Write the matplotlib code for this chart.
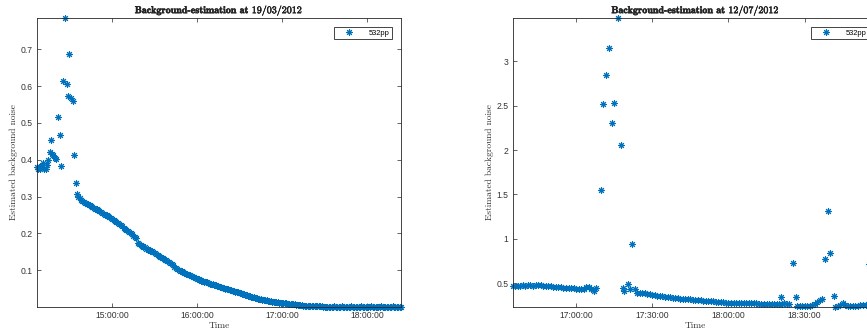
import numpy as np
import pandas as pd
import matplotlib
matplotlib.use("Agg")
import matplotlib.pyplot as plt
import matplotlib.dates as mdates
import matplotlib.patheffects as pe
from matplotlib.ticker import FixedLocator, FuncFormatter

plt.rcParams["font.family"] = ["Liberation Sans", "DejaVu Sans"]
plt.rcParams["mathtext.fontset"] = "cm"

BLUE = "#0072BD"
AXC = "#262626"

# ---- 19/03/2012 ----
day1 = "2012-03-19"
# scattered estimates before the decay sets in
d1_burst_t = ["14:06:40", "14:07:20", "14:08:00", "14:08:40", "14:09:20", "14:10:00",
              "14:11:00", "14:12:00", "14:13:00", "14:14:00", "14:15:00", "14:16:00",
              "14:17:00", "14:17:40", "14:18:30", "14:19:20", "14:20:10", "14:21:50",
              "14:23:00", "14:24:10", "14:25:20", "14:26:40", "14:27:50", "14:28:30",
              "14:29:40", "14:30:40", "14:32:00", "14:33:20", "14:34:20"]
d1_burst_v = [0.380, 0.375, 0.378, 0.374, 0.381, 0.383,
              0.390, 0.374, 0.376, 0.385, 0.399, 0.422,
              0.453, 0.415, 0.412, 0.406, 0.403, 0.515,
              0.467, 0.383, 0.615, 0.785, 0.606, 0.574,
              0.687, 0.568, 0.560, 0.413, 0.338]
# one-minute estimates from 14:35 to 18:24
d1_decay_start = "14:35"
d1_decay_v = [
    0.306, 0.298, 0.295, 0.290, 0.287, 0.285, 0.283, 0.281, 0.279, 0.276,
    0.274, 0.272, 0.269, 0.267, 0.265, 0.263, 0.260, 0.258, 0.256, 0.253,
    0.251, 0.249, 0.246, 0.244, 0.241, 0.238, 0.236, 0.233, 0.230, 0.228,
    0.225, 0.222, 0.219, 0.216, 0.213, 0.210, 0.207, 0.204, 0.201, 0.198,
    0.194, 0.190, 0.187, 0.173, 0.170, 0.168, 0.166, 0.164, 0.162, 0.159,
    0.157, 0.155, 0.153, 0.151, 0.149, 0.147, 0.144, 0.142, 0.140, 0.137,
    0.134, 0.132, 0.129, 0.127, 0.124, 0.122, 0.119, 0.116, 0.113, 0.110,
    0.107, 0.104, 0.102, 0.099, 0.097, 0.095, 0.093, 0.091, 0.089, 0.087,
    0.086, 0.084, 0.082, 0.081, 0.079, 0.077, 0.076, 0.074, 0.072, 0.071,
    0.069, 0.068, 0.067, 0.066, 0.064, 0.063, 0.062, 0.060, 0.059, 0.057,
    0.056, 0.055, 0.054, 0.053, 0.052, 0.050, 0.049, 0.048, 0.047, 0.045,
    0.044, 0.043, 0.042, 0.041, 0.040, 0.039, 0.037, 0.036, 0.035, 0.033,
    0.032, 0.031, 0.029, 0.028, 0.027, 0.026, 0.025, 0.024, 0.023, 0.022,
    0.021, 0.020, 0.019, 0.018, 0.018, 0.017, 0.016, 0.016, 0.015, 0.014,
    0.014, 0.013, 0.013, 0.012, 0.012, 0.011, 0.011, 0.010, 0.010, 0.009,
    0.009, 0.008, 0.008, 0.007, 0.007, 0.006, 0.006, 0.005, 0.005, 0.005,
    0.004, 0.004, 0.004, 0.003, 0.003, 0.003, 0.003, 0.002, 0.002, 0.002,
    0.002, 0.002, 0.002, 0.002, 0.001, 0.001, 0.001, 0.001, 0.001, 0.001,
    0.001, 0.001, 0.002, 0.001, 0.001, 0.001, 0.001, 0.002, 0.001, 0.001,
    0.001, 0.001, 0.001, 0.001, 0.002, 0.001, 0.001, 0.001, 0.001, 0.001,
    0.001, 0.002, 0.001, 0.001, 0.001, 0.001, 0.001, 0.001, 0.002, 0.001,
    0.001, 0.001, 0.001, 0.001, 0.001, 0.002, 0.001, 0.001, 0.001, 0.001,
    0.001, 0.001, 0.001, 0.002, 0.001, 0.001, 0.001, 0.001, 0.001, 0.001,
]

# ---- 12/07/2012 ----
day2 = "2012-07-12"
d2_seg1_start = "16:35"
d2_seg1_v = [0.470, 0.472, 0.468, 0.471, 0.475, 0.473, 0.476, 0.478, 0.474, 0.477,
             0.479, 0.476, 0.473, 0.470, 0.468, 0.466, 0.463, 0.461, 0.458, 0.456,
             0.452, 0.449, 0.447, 0.445, 0.442, 0.438, 0.435, 0.432, 0.440, 0.455,
             0.462, 0.440, 0.418, 0.446]
d2_seg2_start = "17:24"
d2_seg2_v = [0.395, 0.390, 0.388, 0.386, 0.382, 0.376, 0.370, 0.366, 0.362, 0.358,
             0.354, 0.350, 0.346, 0.342, 0.338, 0.334, 0.331, 0.328, 0.325, 0.322,
             0.320, 0.318, 0.315, 0.312, 0.310, 0.307, 0.304, 0.302, 0.300, 0.297,
             0.295, 0.292, 0.290, 0.288, 0.285, 0.283, 0.281, 0.280, 0.279, 0.278,
             0.277, 0.276, 0.276, 0.275, 0.274, 0.274, 0.273, 0.273, 0.272, 0.272,
             0.271, 0.271, 0.270, 0.270, 0.269, 0.269, 0.268, 0.270, 0.275, 0.272,
             0.268]
d2_seg3_start = "18:27"
d2_seg3_v = [0.245, 0.243, 0.246, 0.243, 0.247, 0.245, 0.250, 0.268, 0.292, 0.311, 0.318]
d2_seg4_start = "18:42"
d2_seg4_v = [0.236, 0.242, 0.252, 0.275, 0.256, 0.244, 0.240, 0.243, 0.246, 0.249,
             0.251, 0.254, 0.258, 0.262, 0.266, 0.268, 0.270, 0.272]
# isolated spikes (saturated profiles)
d2_spike_t = ["17:09:36", "17:10:30", "17:11:54", "17:12:54", "17:14:12", "17:15:00",
              "17:16:36", "17:17:30", "17:18:24", "17:19:00", "17:20:24", "17:21:06",
              "17:22:06", "17:23:00", "18:20:48", "18:25:24", "18:26:42", "18:37:54",
              "18:39:06", "18:40:06", "18:41:24", "18:55:30"]
d2_spike_v = [1.546, 2.522, 2.846, 3.147, 2.303, 2.529,
              3.487, 2.059, 0.443, 0.418, 0.490, 0.440,
              0.941, 0.436, 0.342, 0.726, 0.349, 0.771,
              1.317, 0.842, 0.360, 0.718]


def at(day, times):
    return pd.to_datetime([f"{day} {t}" for t in times])


def every_minute(day, start, vals):
    return pd.date_range(f"{day} {start}", periods=len(vals), freq="1min")


def series(parts):
    t = np.concatenate([p[0].values for p in parts])
    v = np.concatenate([np.asarray(p[1], float) for p in parts])
    order = np.argsort(t)
    return t[order], v[order]


t1, v1 = series([(at(day1, d1_burst_t), d1_burst_v),
                 (every_minute(day1, d1_decay_start, d1_decay_v), d1_decay_v)])
t2, v2 = series([(every_minute(day2, d2_seg1_start, d2_seg1_v), d2_seg1_v),
                 (every_minute(day2, d2_seg2_start, d2_seg2_v), d2_seg2_v),
                 (every_minute(day2, d2_seg3_start, d2_seg3_v), d2_seg3_v),
                 (every_minute(day2, d2_seg4_start, d2_seg4_v), d2_seg4_v),
                 (at(day2, d2_spike_t), d2_spike_v)])

W, H = 867, 331
fig = plt.figure(figsize=(W / 100, H / 100), dpi=100)
ax1 = fig.add_axes([36.7 / W, 24.3 / H, 364.3 / W, 288.7 / H])
ax2 = fig.add_axes([512.7 / W, 24.3 / H, 365.5 / W, 288.7 / H])

panels = [
    (ax1, t1, v1, "19/03/2012", [0.1, 0.2, 0.3, 0.4, 0.5, 0.6, 0.7],
     mdates.HourLocator()),
    (ax2, t2, v2, "12/07/2012", [0.5, 1, 1.5, 2, 2.5, 3],
     mdates.MinuteLocator(byminute=[0, 30])),
]

for ax, t, v, date, yt, xloc in panels:
    ax.plot(t, v, ls="none", marker=(8, 2, 0), ms=4.8, mew=0.75,
            color=BLUE, label="532pp", clip_on=False)
    ax.set_xlim(t.min(), t.max())
    ax.set_ylim(v.min(), v.max())
    ax.xaxis.set_major_locator(xloc)
    ax.xaxis.set_major_formatter(mdates.DateFormatter("%H:%M:%S"))
    ax.yaxis.set_major_locator(FixedLocator(yt))
    ax.yaxis.set_major_formatter(FuncFormatter(lambda y, p: f"{y:g}"))
    ax.tick_params(direction="in", top=True, right=True, length=3.2, width=0.5,
                   color=AXC, labelcolor="#333333", labelsize=6.2, pad=3)
    for s in ax.spines.values():
        s.set_color(AXC)
        s.set_linewidth(0.6)
    title = ax.set_title(r"Background-estimation at $\mathrm{" + date + "}$",
                         family="cmb10", fontsize=7.2, pad=3.5, color="#222222")
    title.set_path_effects([pe.withStroke(linewidth=0.35, foreground="#222222")])
    ax.set_xlabel("Time", family="cmr10", fontsize=6.8, labelpad=1, color="#333333")
    ax.set_ylabel("Estimated background noise", family="cmr10", fontsize=6.8,
                  labelpad=1.5, color="#333333")
    leg = ax.legend(loc="upper right", bbox_to_anchor=(1 - 9 / 364.3, 1 - 8.7 / 288.7),
                    borderaxespad=0, fancybox=False, fontsize=5.4, handlelength=3.4,
                    handletextpad=0.9, borderpad=0.35, framealpha=1,
                    edgecolor=AXC)
    leg.get_frame().set_linewidth(0.6)

fig.savefig("out.png", dpi=100)
